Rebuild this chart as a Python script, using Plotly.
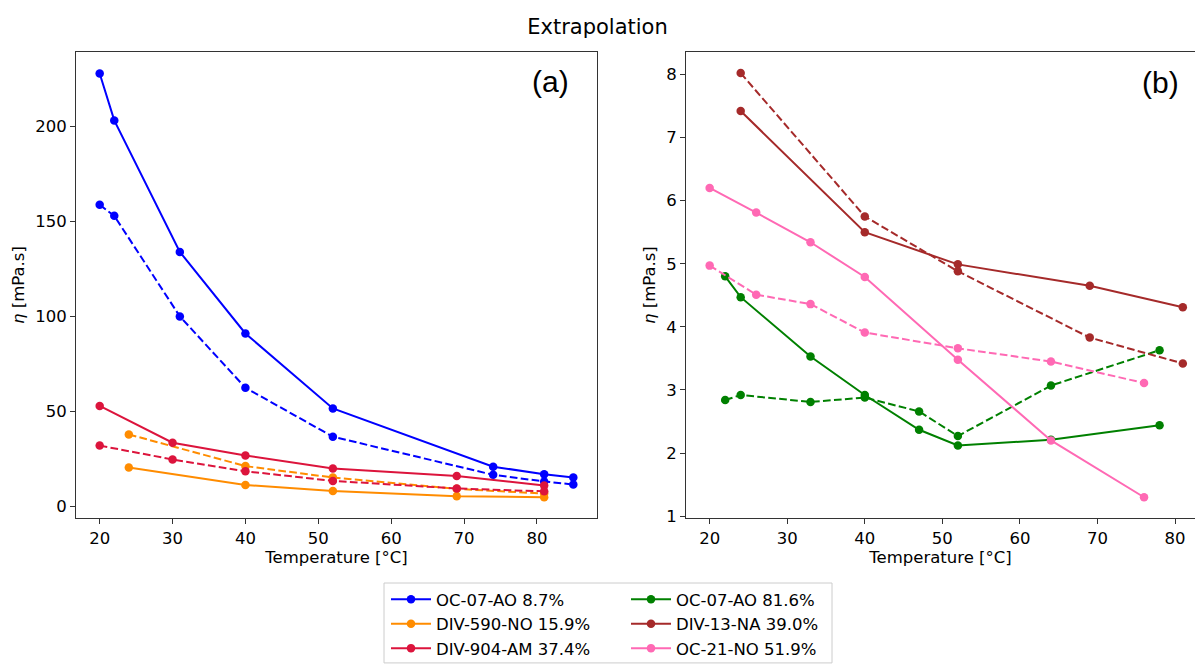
import plotly.graph_objects as go

W, H = 1195, 666

# ---------------- data: panel (a) ----------------
a_blue_x = [20, 22, 31, 40, 52, 74, 81, 85]
a_blue_solid = [228, 203.3, 134, 91, 51.5, 20.8, 16.8, 15.1]
a_blue_dash = [158.8, 153, 100, 62.4, 36.6, 16.5, 13.0, 11.4]

a_orange_x = [24, 40, 52, 69, 81]
a_orange_solid = [20.4, 11.2, 8.0, 5.2, 4.7]
a_orange_dash = [37.8, 21.1, 15.1, 9.1, 6.6]

a_red_x = [20, 30, 40, 52, 69, 81]
a_red_solid = [52.8, 33.4, 26.7, 19.9, 15.9, 10.9]
a_red_dash = [31.9, 24.6, 18.4, 13.3, 9.3, 7.8]

# ---------------- data: panel (b) ----------------
b_green_x = [22, 24, 33, 40, 47, 52, 64, 78]
b_green_solid = [4.80, 4.47, 3.53, 2.92, 2.37, 2.12, 2.21, 2.44]
b_green_dash = [2.84, 2.92, 2.81, 2.88, 2.66, 2.27, 3.07, 3.63]

b_brown_x = [24, 40, 52, 69, 81]
b_brown_solid = [7.42, 5.50, 4.99, 4.65, 4.31]
b_brown_dash = [8.02, 5.75, 4.88, 3.83, 3.42]

b_pink_x = [20, 26, 33, 40, 52, 64, 76]
b_pink_solid = [6.20, 5.81, 5.34, 4.79, 3.48, 2.20, 1.30]
b_pink_dash = [4.97, 4.51, 4.36, 3.91, 3.66, 3.45, 3.11]

names = ["OC-07-AO 8.7%", "DIV-590-NO 15.9%", "DIV-904-AM 37.4%",
         "OC-07-AO 81.6%", "DIV-13-NA 39.0%", "OC-21-NO 51.9%"]
colors = ["#0000ff", "#ff8c00", "#dc143c", "#008000", "#a52a2a", "#ff69b4"]

FONT = "DejaVu Sans"
FS = 16.5
DASH = "7.7px,3.3px"

fig = go.Figure()

series = [
    ("x", "y", a_blue_x, a_blue_solid, a_blue_dash, 0, "legend"),
    ("x", "y", a_orange_x, a_orange_solid, a_orange_dash, 1, "legend"),
    ("x", "y", a_red_x, a_red_solid, a_red_dash, 2, "legend"),
    ("x2", "y2", b_green_x, b_green_solid, b_green_dash, 3, "legend2"),
    ("x2", "y2", b_brown_x, b_brown_solid, b_brown_dash, 4, "legend2"),
    ("x2", "y2", b_pink_x, b_pink_solid, b_pink_dash, 5, "legend2"),
]

for xa, ya, xs, ys, yd, i, lg in series:
    fig.add_trace(go.Scatter(
        x=xs, y=ys, xaxis=xa, yaxis=ya, mode="lines+markers",
        name=names[i], legend=lg, legendrank=i + 1,
        line=dict(color=colors[i], width=2),
        marker=dict(color=colors[i], size=8.5),
        showlegend=True,
    ))
    fig.add_trace(go.Scatter(
        x=xs, y=yd, xaxis=xa, yaxis=ya, mode="lines+markers",
        name=names[i] + " (dashed)", legend=lg,
        line=dict(color=colors[i], width=2, dash=DASH),
        marker=dict(color=colors[i], size=8.5),
        showlegend=False,
    ))

axis_common = dict(
    showline=True, linecolor="#333333", linewidth=1,
    ticks="outside", ticklen=5, tickwidth=1, tickcolor="#333333",
    showgrid=False, zeroline=False,
    tickfont=dict(family=FONT, size=FS, color="black"),
)

def px2x(p):
    return p / W

def px2y(p):
    return 1 - p / H

fig.update_layout(
    width=W, height=H,
    margin=dict(l=0, r=0, t=0, b=0),
    paper_bgcolor="white", plot_bgcolor="white",
    font=dict(family=FONT, size=FS, color="black"),
    title=dict(text="Extrapolation", x=0.5, xanchor="center",
               y=px2y(27), yanchor="middle",
               font=dict(family=FONT, size=21, color="black")),
    xaxis=dict(domain=[px2x(76), px2x(597)], range=[16.75, 88.25], dtick=10,
               mirror=True, anchor="y",
               title=dict(text="Temperature [°C]", standoff=3,
                          font=dict(family=FONT, size=FS)),
               **axis_common),
    yaxis=dict(domain=[px2y(525), px2y(53)], range=[-6.2, 239.2], dtick=50,
               mirror=True, anchor="x",
               title=dict(text="<i>η</i> [mPa.s]", standoff=6,
                          font=dict(family=FONT, size=FS)),
               **axis_common),
    xaxis2=dict(domain=[px2x(686), 1.0], range=[16.95, 82.57], dtick=10,
                mirror=True, anchor="y2",
                title=dict(text="Temperature [°C]", standoff=3,
                           font=dict(family=FONT, size=FS)),
                **axis_common),
    yaxis2=dict(domain=[px2y(525), px2y(53)], range=[0.973, 8.35], dtick=1,
                mirror=False, anchor="x2",
                title=dict(text="<i>η</i> [mPa.s]", standoff=6,
                           font=dict(family=FONT, size=FS)),
                **axis_common),
    legend=dict(x=px2x(386), y=px2y(590), xanchor="left", yanchor="top",
                bgcolor="rgba(0,0,0,0)", borderwidth=0,
                font=dict(family=FONT, size=FS), itemwidth=40,
                tracegroupgap=0),
    legend2=dict(x=px2x(626), y=px2y(590), xanchor="left", yanchor="top",
                 bgcolor="rgba(0,0,0,0)", borderwidth=0,
                 font=dict(family=FONT, size=FS), itemwidth=40,
                 tracegroupgap=0),
    shapes=[dict(type="rect", xref="paper", yref="paper",
                 x0=px2x(384), x1=px2x(832), y0=px2y(672), y1=px2y(591),
                 line=dict(color="#cccccc", width=1),
                 fillcolor="rgba(255,255,255,0.8)", layer="below")],
    annotations=[
        dict(text="(a)", xref="paper", yref="paper", x=px2x(571), y=px2y(83),
             xanchor="right", yanchor="middle", showarrow=False,
             font=dict(family="Liberation Sans", size=30, color="black")),
        dict(text="(b)", xref="paper", yref="paper", x=px2x(1181), y=px2y(84),
             xanchor="right", yanchor="middle", showarrow=False,
             font=dict(family="Liberation Sans", size=30, color="black")),
    ],
)

fig.write_html(
    "out.html",
    config={"displayModeBar": False},
    post_script="document.body.style.margin='0';document.body.style.padding='0';"
                "document.documentElement.style.overflow='hidden';",
)
